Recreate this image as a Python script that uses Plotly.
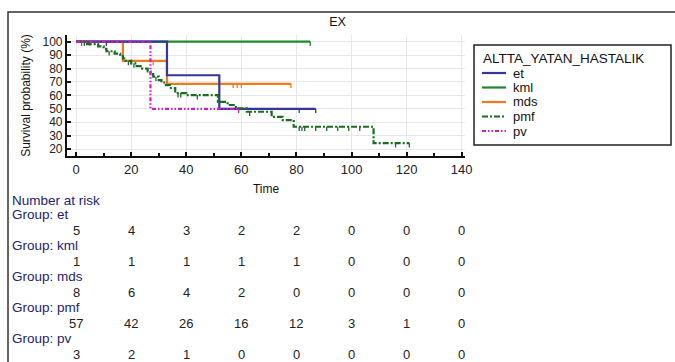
import numpy as np
import plotly.graph_objects as go

# Kaplan-Meier step data by underlying disease group (time, survival %)
et_t = [0, 33, 52, 87]
et_s = [100, 75, 50, 50]
et_cens = [11, 81, 87]

kml_t = [0, 85]
kml_s = [100, 100]
kml_cens = [85]

mds_t = [0, 17, 33, 78]
mds_s = [100, 85.7, 68.6, 68.6]
mds_cens = [5, 28, 57, 58.5, 60, 78]

pmf_t = [0, 4, 8, 10, 11, 14, 16, 17, 18, 20, 22, 24, 26, 27, 28, 30, 31, 32, 34, 36,
         40, 51.5, 55, 58, 62, 71, 75, 79, 108, 121]
pmf_s = [100, 98.2, 96.5, 94.7, 92.9, 91.1, 89.3, 87.5, 85.7, 83.8, 81.8, 79.9, 77.9, 75.9,
         73.9, 71.4, 69.6, 67.7, 65.5, 61.7, 60.2, 55.2, 52.8, 50.3, 47.8, 44.0, 41.6, 36.6,
         24.4, 24.4]
pmf_cens = [3, 12, 19, 21, 29, 37, 38, 44, 63, 81, 82, 83, 87, 91, 95, 99, 103, 116, 121]

pv_t = [0, 27, 59]
pv_s = [100, 50, 50]
pv_cens = [2, 59]

groups = ["et", "kml", "mds", "pmf", "pv"]
colors = {"et": "#35359e", "kml": "#1f8a2a", "mds": "#f07a1e", "pmf": "#1b6b22", "pv": "#c91fc9"}
dashes = {"et": "solid", "kml": "solid", "mds": "solid",
          "pmf": "6px,2px,2px,2px", "pv": "4px,2px,1.5px,2px,1.5px,2px"}
curves = {"et": (et_t, et_s, et_cens), "kml": (kml_t, kml_s, kml_cens),
          "mds": (mds_t, mds_s, mds_cens), "pmf": (pmf_t, pmf_s, pmf_cens),
          "pv": (pv_t, pv_s, pv_cens)}

# Number at risk table
risk_times = [0, 20, 40, 60, 80, 100, 120, 140]
risk_et = [5, 4, 3, 2, 2, 0, 0, 0]
risk_kml = [1, 1, 1, 1, 1, 0, 0, 0]
risk_mds = [8, 6, 4, 2, 0, 0, 0, 0]
risk_pmf = [57, 42, 26, 16, 12, 3, 1, 0]
risk_pv = [3, 2, 1, 0, 0, 0, 0, 0]
risk = {"et": risk_et, "kml": risk_kml, "mds": risk_mds, "pmf": risk_pmf, "pv": risk_pv}

W, H = 675, 362
L, R, T, B = 67, 210, 35, 206
PW, PH = W - L - R, H - T - B
FONT = "Liberation Sans, Arial, sans-serif"


def px(x):
    return (x - L) / PW


def py(y):
    return (H - B - y) / PH


def surv_at(t_arr, s_arr, t):
    i = np.searchsorted(np.asarray(t_arr), t, side="right") - 1
    return s_arr[max(i, 0)]


fig = go.Figure()
for g in ["kml", "mds", "et", "pmf", "pv"]:
    t_arr, s_arr, cens = curves[g]
    fig.add_trace(go.Scatter(x=t_arr, y=s_arr, mode="lines", line_shape="hv",
                             line=dict(color=colors[g], width=2.2, dash=dashes[g]),
                             showlegend=False, hoverinfo="skip"))
    cy = [surv_at(t_arr, s_arr, c) for c in cens]
    fig.add_trace(go.Scatter(x=cens, y=cy, mode="markers",
                             marker=dict(size=0.1, color=colors[g]),
                             error_y=dict(type="data", symmetric=False,
                                          array=[0] * len(cens), arrayminus=[3.2] * len(cens),
                                          color=colors[g], thickness=1.3, width=0),
                             showlegend=False, hoverinfo="skip"))

shapes = []
ann = []

# outer frame
shapes.append(dict(type="rect", xref="paper", yref="paper",
                   x0=px(8), x1=px(690), y0=py(380), y1=py(12),
                   line=dict(color="#333", width=1.5), layer="below"))

# legend box
shapes.append(dict(type="rect", xref="paper", yref="paper",
                   x0=px(474), x1=px(671), y0=py(145), y1=py(45),
                   line=dict(color="#222", width=1.5)))
ann.append(dict(text="ALTTA_YATAN_HASTALIK", xref="paper", yref="paper",
                x=px(481), y=py(58), xanchor="left", yanchor="middle", showarrow=False,
                font=dict(family=FONT, size=13.5, color="#111")))
for i, g in enumerate(groups):
    yy = py(73 + 14.5 * i)
    shapes.append(dict(type="line", xref="paper", yref="paper",
                       x0=px(482), x1=px(506), y0=yy, y1=yy,
                       line=dict(color=colors[g], width=2.2, dash=dashes[g])))
    ann.append(dict(text=g, xref="paper", yref="paper", x=px(511), y=yy,
                    xanchor="left", yanchor="middle", showarrow=False,
                    font=dict(family=FONT, size=13, color="#111")))

# number at risk table
ann.append(dict(text="Number at risk", xref="paper", yref="paper", x=px(10), y=py(200),
                xanchor="left", yanchor="middle", showarrow=False,
                font=dict(family=FONT, size=13.5, color="#23236e")))
for i, g in enumerate(groups):
    row_y = 230 + 31.2 * i
    ann.append(dict(text="Group: " + g, xref="paper", yref="paper", x=px(10),
                    y=py(row_y - 16), xanchor="left", yanchor="middle", showarrow=False,
                    font=dict(family=FONT, size=13.5, color="#23236e")))
    for t, n in zip(risk_times, risk[g]):
        ann.append(dict(text=str(n), xref="x", yref="paper", x=t, y=py(row_y),
                        xanchor="center", yanchor="middle", showarrow=False,
                        font=dict(family=FONT, size=13, color="#222")))

fig.update_layout(
    width=W, height=H, margin=dict(l=L, r=R, t=T, b=B),
    paper_bgcolor="white", plot_bgcolor="white",
    title=dict(text="EX", x=px(266), xanchor="center", y=1 - 22 / H, yanchor="middle",
               font=dict(family=FONT, size=12.5, color="#111")),
    font=dict(family=FONT, size=12, color="#111"),
    shapes=shapes, annotations=ann, showlegend=False,
)
fig.update_xaxes(range=[-3.3, 141.2], tickvals=list(range(0, 141, 20)),
                 ticks="inside", ticklen=4, tickwidth=1.5, tickcolor="#111",
                 minor=dict(tickvals=list(range(10, 141, 20)), ticks="inside", ticklen=3,
                            tickcolor="#111", showgrid=False),
                 showline=True, linewidth=2.2, linecolor="#111", mirror=False,
                 showgrid=True, gridcolor="#e8e8e8", gridwidth=1, zeroline=False,
                 tickfont=dict(family=FONT, size=13, color="#222"),
                 title=dict(text="Time", font=dict(family=FONT, size=12, color="#111"), standoff=9))
fig.update_yaxes(range=[14.8, 105], tickvals=list(range(20, 101, 10)),
                 ticks="inside", ticklen=4, tickwidth=1.5, tickcolor="#111",
                 showline=True, linewidth=2.2, linecolor="#111",
                 showgrid=True, gridcolor="#e8e8e8", gridwidth=1, zeroline=False,
                 tickfont=dict(family=FONT, size=12, color="#222"),
                 title=dict(text="Survival probability (%)", font=dict(family=FONT, size=12, color="#111"),
                            standoff=9))

fig.write_html("out.html")
